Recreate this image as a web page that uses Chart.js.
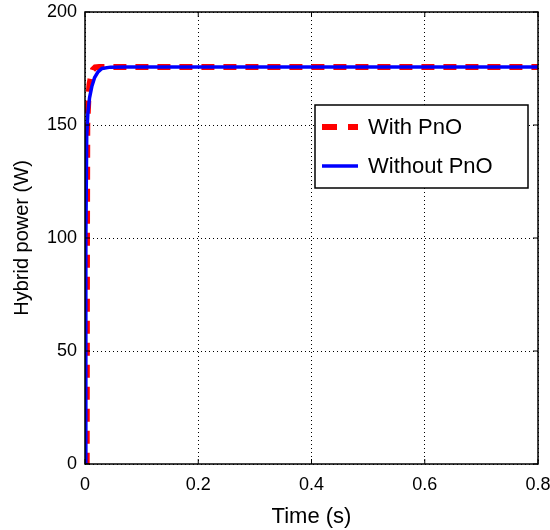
<!DOCTYPE html>
<html>
<head>
<meta charset="utf-8">
<script src="https://cdn.jsdelivr.net/npm/chart.js@4"></script>
<style>
  html, body { margin: 0; padding: 0; background: #fff; }
  #wrap { width: 550px; height: 530px; }
</style>
</head>
<body>
<div id="wrap"><canvas id="chart" width="550" height="530"></canvas></div>
<script>
// ---- Data ----
const withTime = [0, 0.003, 0.0035, 0.004, 0.006, 0.008, 0.011, 0.014, 0.018, 0.025, 0.1, 0.2, 0.3, 0.4, 0.5, 0.6, 0.7, 0.8];
const withPower = [0, 0, 100, 150, 162, 168, 172, 174.5, 175.5, 175.7, 175.7, 175.7, 175.7, 175.7, 175.7, 175.7, 175.7, 175.7];
const withoutTime = [0, 0.0015, 0.003, 0.005, 0.008, 0.012, 0.017, 0.023, 0.03, 0.045, 0.07, 0.2, 0.4, 0.6, 0.8];
const withoutPower = [0, 100, 145, 155, 162, 167, 171, 173.5, 175, 175.6, 175.7, 175.7, 175.7, 175.7, 175.7];
const xTicks = [0, 0.2, 0.4, 0.6, 0.8];
const yTicks = [0, 50, 100, 150, 200];
const seriesNames = ['With PnO', 'Without PnO'];

const FONT = "'Liberation Sans', Arial, sans-serif";

function toPoints(xs, ys) {
    return xs.map((x, i) => ({ x: x, y: ys[i] }));
}

// box, inward ticks and legend, MATLAB style
const frame = {
    id: 'frame',
    afterDatasetsDraw(chart) {
        const ctx = chart.ctx;
        const a = chart.chartArea;
        const xs = chart.scales.x;
        const ys = chart.scales.y;
        ctx.save();
        ctx.strokeStyle = '#000';
        ctx.lineWidth = 1.5;
        ctx.strokeRect(a.left, a.top, a.right - a.left, a.bottom - a.top);
        ctx.lineWidth = 1;
        xTicks.forEach(v => {
            const p = xs.getPixelForValue(v);
            ctx.beginPath();
            ctx.moveTo(p, a.bottom); ctx.lineTo(p, a.bottom - 5);
            ctx.moveTo(p, a.top); ctx.lineTo(p, a.top + 5);
            ctx.stroke();
        });
        yTicks.forEach(v => {
            const p = ys.getPixelForValue(v);
            ctx.beginPath();
            ctx.moveTo(a.left, p); ctx.lineTo(a.left + 5, p);
            ctx.moveTo(a.right, p); ctx.lineTo(a.right - 5, p);
            ctx.stroke();
        });

        // legend
        const lx = 315, ly = 105, lw = 213, lh = 83;
        ctx.fillStyle = '#fff';
        ctx.fillRect(lx, ly, lw, lh);
        ctx.strokeStyle = '#000';
        ctx.lineWidth = 1.5;
        ctx.strokeRect(lx, ly, lw, lh);

        ctx.lineWidth = 6;
        ctx.strokeStyle = '#ff0000';
        ctx.setLineDash([15, 11]);
        ctx.beginPath();
        ctx.moveTo(322, 127); ctx.lineTo(358, 127);
        ctx.stroke();
        ctx.setLineDash([]);
        ctx.lineWidth = 3.5;
        ctx.strokeStyle = '#0000ff';
        ctx.beginPath();
        ctx.moveTo(322, 166); ctx.lineTo(358, 166);
        ctx.stroke();

        ctx.fillStyle = '#000';
        ctx.font = '22px ' + FONT;
        ctx.textAlign = 'left';
        ctx.textBaseline = 'middle';
        ctx.fillText(seriesNames[0], 368, 128);
        ctx.fillText(seriesNames[1], 368, 167);
        ctx.restore();
    }
};

const ctx = document.getElementById('chart').getContext('2d');
new Chart(ctx, {
    type: 'line',
    data: {
        datasets: [
            {
                label: seriesNames[1],
                data: toPoints(withoutTime, withoutPower),
                borderColor: '#0000ff',
                borderWidth: 3.5,
                pointRadius: 0,
                tension: 0,
                order: 1
            },
            {
                label: seriesNames[0],
                data: toPoints(withTime, withPower),
                borderColor: '#ff0000',
                borderWidth: 6,
                borderDash: [13, 9],
                pointRadius: 0,
                tension: 0,
                order: 2
            }
        ]
    },
    options: {
        responsive: false,
        animation: false,
        layout: { padding: { top: 12, right: 12, left: 0, bottom: 0 } },
        plugins: {
            legend: { display: false },
            tooltip: { enabled: false }
        },
        scales: {
            x: {
                type: 'linear',
                min: 0,
                max: 0.8,
                afterBuildTicks: s => { s.ticks = xTicks.map(v => ({ value: v })); },
                afterFit: s => { s.height = 66; s.paddingLeft = 0; s.paddingRight = 0; },
                grid: { color: '#000', lineWidth: 1, tickLength: 0, drawTicks: false },
                border: { display: false, dash: [1, 3] },
                ticks: {
                    color: '#000',
                    font: { family: FONT, size: 18 },
                    padding: 10,
                    maxRotation: 0,
                    callback: v => String(v)
                },
                title: {
                    display: true,
                    text: 'Time (s)',
                    color: '#000',
                    font: { family: FONT, size: 22 },
                    padding: { top: 2, bottom: 0 }
                }
            },
            y: {
                min: 0,
                max: 200,
                afterBuildTicks: s => { s.ticks = yTicks.map(v => ({ value: v })); },
                afterFit: s => { s.width = 85; s.paddingTop = 0; s.paddingBottom = 0; },
                grid: { color: '#000', lineWidth: 1, drawTicks: false },
                border: { display: false, dash: [1, 3] },
                ticks: {
                    color: '#000',
                    font: { family: FONT, size: 18 },
                    padding: 8
                },
                title: {
                    display: true,
                    text: 'Hybrid power (W)',
                    color: '#000',
                    font: { family: FONT, size: 20 },
                    padding: { top: 10, bottom: 0 }
                }
            }
        }
    },
    plugins: [frame]
});
</script>
</body>
</html>
